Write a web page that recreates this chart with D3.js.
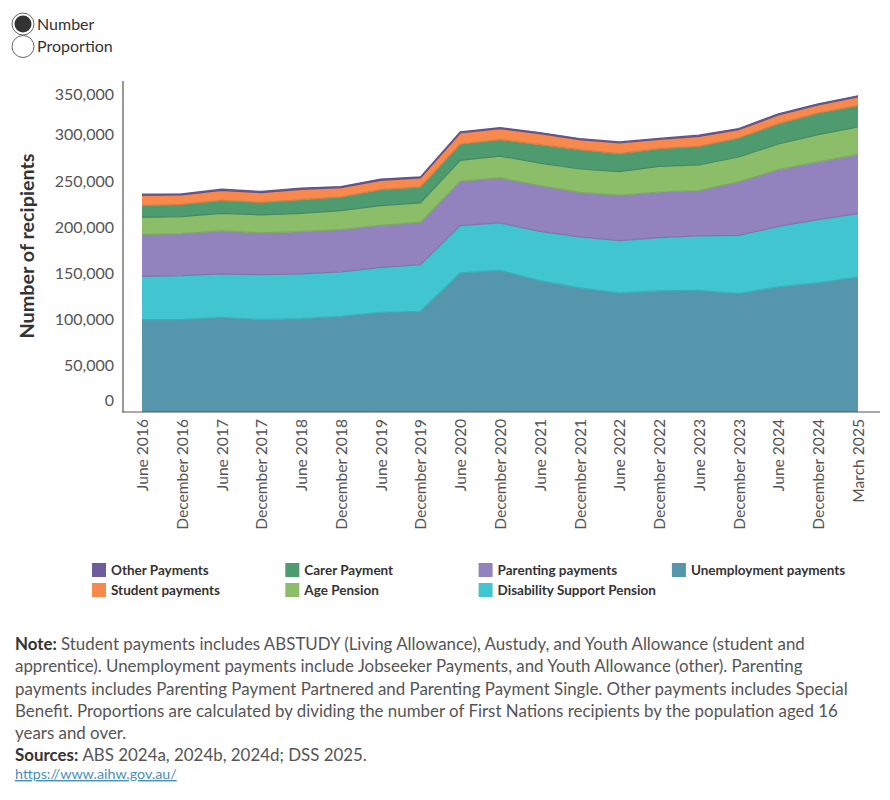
<!DOCTYPE html>
<html>
<head>
<meta charset="utf-8">
<script src="https://cdn.jsdelivr.net/npm/d3@7"></script>
<style>
  body { margin: 0; background: #fff; }
  svg { display: block; font-family: Lato, "Open Sans", sans-serif; }
</style>
</head>
<body>
<svg id="chart" width="890" height="800"></svg>
<script>
// periods on the x axis
let periods = ["June 2016", "December 2016", "June 2017", "December 2017", "June 2018",
  "December 2018", "June 2019", "December 2019", "June 2020", "December 2020", "June 2021",
  "December 2021", "June 2022", "December 2022", "June 2023", "December 2023", "June 2024",
  "December 2024", "March 2025"];

// recipients (thousands)
let unemployment = [100, 100, 102.5, 100, 101, 103.6, 107.9, 109, 150.5, 153.3, 142.2, 134.2, 128.9, 131, 131.7, 128.1, 135.3, 139.7, 146.2];
let disability = [46.8, 47.6, 46.9, 48.6, 48.4, 48, 48.6, 50.5, 51.1, 51.2, 53.3, 55.2, 56.5, 57.6, 58.8, 63, 65.6, 68.4, 68.4];
let parenting = [45.1, 45.4, 46.5, 45.1, 45.7, 45.7, 45.5, 45.7, 47.9, 48.7, 49.4, 48.2, 49, 49.4, 49, 57.8, 61.3, 62.4, 63.8];
let agePension = [18.7, 18.3, 19, 19.5, 19.8, 20.5, 21.2, 21, 22.7, 23.7, 24.4, 25.3, 25.6, 27.7, 27.7, 27, 27.7, 29.5, 29.9];
let carer = [12.6, 13.4, 14.1, 13.6, 14.8, 14.8, 17.3, 17.3, 17.7, 17.7, 19.9, 20.9, 19.5, 19.2, 20.2, 20.5, 22, 23.5, 23.1];
let student = [11.2, 10.1, 10.8, 10.5, 11.2, 10.1, 10.1, 9.7, 11.9, 11.9, 11.9, 10.8, 11.5, 10, 10.8, 9, 9.4, 8.6, 9.4];
let other = [1.3, 1.2, 1.3, 1.3, 1.3, 1.2, 1.4, 1.2, 1.2, 1.2, 1.3, 1.3, 1.2, 1.1, 1.3, 1.3, 1.3, 1.3, 1.3];

let yTicks = [0, 50000, 100000, 150000, 200000, 250000, 300000, 350000];

// stack order, bottom first
let seriesNames = ["Unemployment payments", "Disability Support Pension", "Parenting payments",
  "Age Pension", "Carer Payment", "Student payments", "Other Payments"];
let seriesValues = [unemployment, disability, parenting, agePension, carer, student, other];
let seriesColors = ["#5596ad", "#41c5d0", "#9283be", "#8cbd69", "#4e9b70", "#f6894b", "#6e5c9b"];

// legend is laid out column by column
let legendOrder = ["Other Payments", "Student payments", "Carer Payment", "Age Pension",
  "Parenting payments", "Disability Support Pension", "Unemployment payments"];

let noteLines = [
  "Student payments includes ABSTUDY (Living Allowance), Austudy, and Youth Allowance (student and",
  "apprentice). Unemployment payments include Jobseeker Payments, and Youth Allowance (other). Parenting",
  "payments includes Parenting Payment Partnered and Parenting Payment Single. Other payments includes Special",
  "Benefit. Proportions are calculated by dividing the number of First Nations recipients by the population aged 16",
  "years and over."
];

let svg = d3.select("#chart");
let color = d3.scaleOrdinal().domain(seriesNames).range(seriesColors);

let rows = periods.map((p, i) => {
  let r = { period: p };
  seriesNames.forEach((s, k) => r[s] = seriesValues[k][i] * 1000);
  return r;
});

let x = d3.scalePoint().domain(periods).range([142, 858]);
let y = d3.scaleLinear().domain([0, 357000]).range([412, 82]);

let stacked = d3.stack().keys(seriesNames)(rows);

// radio buttons
let radios = svg.append("g");
["Number", "Proportion"].forEach((t, i) => {
  let cy = 24 + i * 22.5;
  radios.append("circle").attr("cx", 23).attr("cy", cy).attr("r", 11)
    .attr("fill", "#fff").attr("stroke", "#666").attr("stroke-width", 1);
  if (i == 0) radios.append("circle").attr("cx", 23).attr("cy", cy).attr("r", 8.5).attr("fill", "#333");
  radios.append("text").attr("x", 37).attr("y", cy + 5.5).text(t)
    .attr("font-size", 16).attr("fill", "#333");
});

// areas
let area = d3.area()
  .x(d => x(d.data.period))
  .y0(d => y(d[0]))
  .y1(d => y(d[1]));

svg.append("g").selectAll("path").data(stacked).join("path")
  .attr("d", area)
  .attr("fill", d => color(d.key));

// darker edge along the bottom of each band
let edge = d3.line().x(d => x(d.data.period)).y(d => y(d[0]));
let edgeTop = d3.line().x(d => x(d.data.period)).y(d => y(d[1]));
svg.append("g").selectAll("path").data(stacked.slice(1)).join("path")
  .attr("d", edge)
  .attr("fill", "none")
  .attr("stroke", d => d3.color(color(d.key)).darker(0.35))
  .attr("stroke-width", 1.2);
svg.append("path").datum(stacked[stacked.length - 1])
  .attr("d", edgeTop).attr("fill", "none")
  .attr("stroke", d3.color(color("Other Payments")).darker(0.3)).attr("stroke-width", 1.2);

// axes
let gY = svg.append("g").attr("transform", "translate(123,0)");
gY.call(d3.axisLeft(y).tickValues(yTicks).tickSize(0).tickPadding(9).tickFormat(d3.format(",")));
gY.select(".domain").remove();
gY.selectAll(".tick text")
  .attr("font-family", "Lato, sans-serif")
  .attr("font-size", 16)
  .attr("fill", "#555")
  .attr("y", d => Math.max(94, Math.min(400, y(d))) - y(d));

let gX = svg.append("g").attr("transform", "translate(0,412)");
gX.call(d3.axisBottom(x).tickSize(0));
gX.select(".domain").remove();
gX.selectAll(".tick text")
  .attr("font-family", "Lato, sans-serif")
  .attr("font-size", 15.6)
  .attr("fill", "#555")
  .attr("transform", "rotate(-90)")
  .attr("text-anchor", "end")
  .attr("x", -7)
  .attr("y", 0)
  .attr("dy", "0.35em");

svg.append("line").attr("x1", 123).attr("x2", 123).attr("y1", 81).attr("y2", 412.5)
  .attr("stroke", "#555").attr("stroke-width", 1.2);
svg.append("line").attr("x1", 122.5).attr("x2", 880).attr("y1", 412).attr("y2", 412)
  .attr("stroke", "#555").attr("stroke-width", 1.2);

svg.append("text")
  .attr("transform", "translate(34,246) rotate(-90)")
  .attr("text-anchor", "middle")
  .attr("font-size", 19.8)
  .attr("font-weight", 700)
  .attr("fill", "#333")
  .text("Number of recipients");

// legend
let legend = svg.append("g").attr("font-size", 13.5).attr("font-weight", 700);
legendOrder.forEach((name, i) => {
  let col = Math.floor(i / 2), row = i % 2;
  let lx = 92 + col * 193.3, ly = 570 + row * 20;
  legend.append("rect").attr("x", lx).attr("y", ly - 7).attr("width", 14).attr("height", 14)
    .attr("fill", color(name));
  legend.append("text").attr("x", lx + 19).attr("y", ly + 5).attr("fill", "#333").text(name);
});

// notes
let notes = svg.append("g").attr("font-size", 16.9).attr("fill", "#555");
noteLines.forEach((line, i) => {
  let t = notes.append("text").attr("x", 15).attr("y", 650 + i * 22.3);
  if (i == 0) t.append("tspan").attr("font-weight", 700).attr("fill", "#333").text("Note: ");
  t.append("tspan").text(line);
});
let src = notes.append("text").attr("x", 15).attr("y", 761);
src.append("tspan").attr("font-weight", 700).attr("fill", "#333").text("Sources: ");
src.append("tspan").text("ABS 2024a, 2024b, 2024d; DSS 2025.");
svg.append("text").attr("x", 15).attr("y", 779).attr("font-size", 14.3)
  .attr("fill", "#4b8fb8").attr("text-decoration", "underline").text("https://www.aihw.gov.au/");
</script>
</body>
</html>
